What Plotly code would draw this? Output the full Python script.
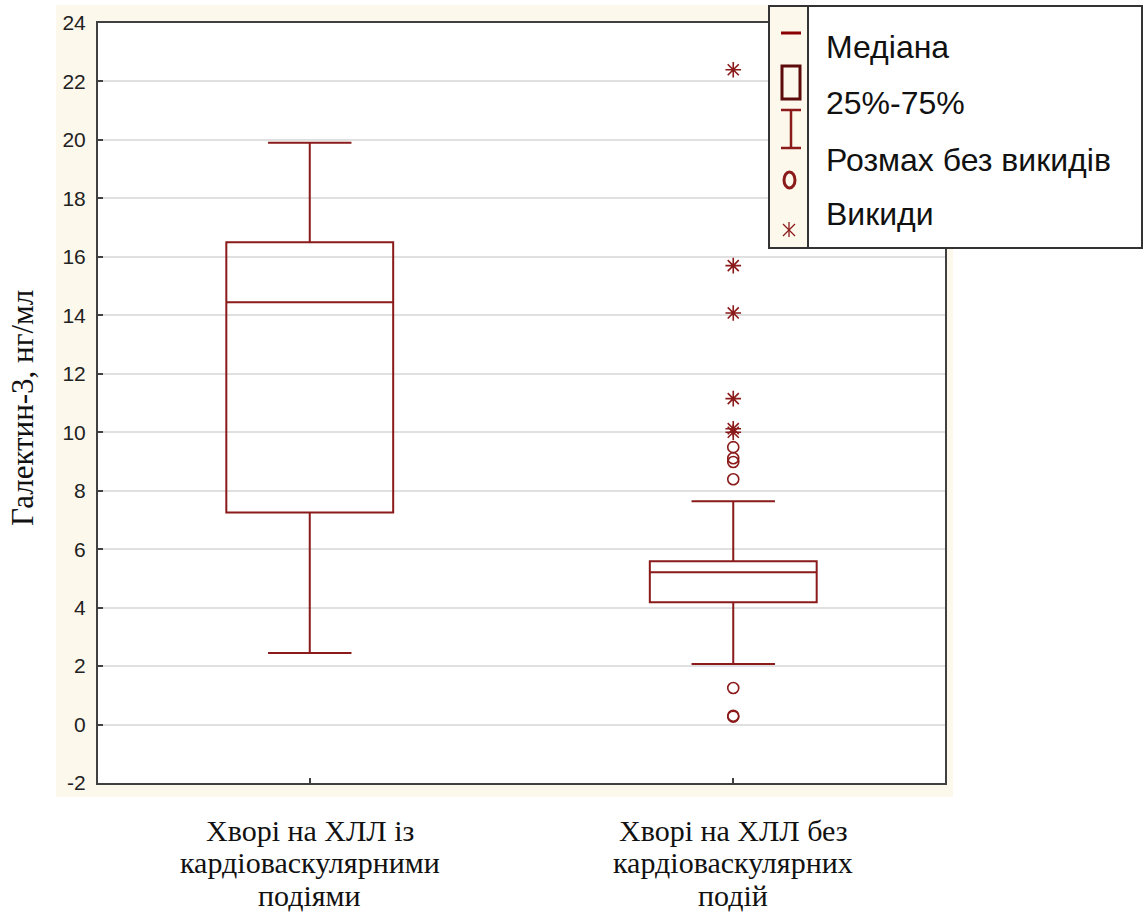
import plotly.graph_objects as go

# ---------------- data ----------------
categories = ["Хворі на ХЛЛ із<br>кардіоваскулярними<br>подіями",
              "Хворі на ХЛЛ без<br>кардіоваскулярних<br>подій"]
cat_pos = [0, 1]
q1 = [7.25, 4.18]
median = [14.45, 5.21]
q3 = [16.5, 5.59]
lower_whisker = [2.45, 2.07]
upper_whisker = [19.9, 7.64]

# outliers (group 2 only)
outlier_vals = [0.27, 0.30, 1.25, 8.39, 8.98, 9.11, 9.49]
extreme_vals = [10.0, 10.12, 11.15, 14.08, 15.7, 22.4]

y_tickvals = [-2, 0, 2, 4, 6, 8, 10, 12, 14, 16, 18, 20, 22, 24]
y_ticktext = ["-2", "0", "2", "4", "6", "8", "10", "12", "14", "16", "18", "20", "22", "24"]

y_title = "Галектин-3, нг/мл"
legend_labels = ["Медіана", "25%-75%", "Розмах без викидів", "Викиди"]

# ---------------- style ----------------
W, H = 1144, 914
L, R, T, B = 98, 199, 23, 131
RED = "#8B1A1A"
DARK = "#5C0A0A"
FRAME = "#404040"
CREAM = "#FDF8EC"

def px(xp):
    return (xp - L) / (W - L - R)

def py(yp):
    return (H - B - yp) / (H - T - B)

fig = go.Figure()
for i in range(len(cat_pos)):
    fig.add_trace(go.Box(
        x=[cat_pos[i]], q1=[q1[i]], median=[median[i]], q3=[q3[i]],
        lowerfence=[lower_whisker[i]], upperfence=[upper_whisker[i]],
        width=0.394, whiskerwidth=0.5, boxpoints=False,
        line=dict(color=RED, width=2), fillcolor="rgba(0,0,0,0)",
        showlegend=False, hoverinfo="skip"))

fig.add_trace(go.Scatter(
    x=[cat_pos[1]] * len(outlier_vals), y=outlier_vals, mode="markers",
    marker=dict(symbol="circle-open", size=11, color=RED, line=dict(width=1.6, color=RED)),
    showlegend=False))
fig.add_trace(go.Scatter(
    x=[cat_pos[1]] * len(extreme_vals), y=extreme_vals, mode="markers",
    marker=dict(symbol="asterisk-open", size=13, color=RED, line=dict(width=1.6, color=RED)),
    showlegend=False))

shapes = [
    # cream surround
    dict(type="rect", xref="paper", yref="paper", x0=px(56), x1=px(953), y0=py(797), y1=py(5),
         fillcolor=CREAM, line=dict(width=0), layer="below"),
    # white plot area
    dict(type="rect", xref="paper", yref="paper", x0=0, x1=1, y0=0, y1=1,
         fillcolor="white", line=dict(width=0), layer="below"),
]

# custom legend
lx0, lx1, ldiv, ly0, ly1 = 769, 1142, 808, 6, 248
shapes += [
    dict(type="rect", xref="paper", yref="paper", x0=px(lx0), x1=px(ldiv), y0=py(ly1), y1=py(ly0),
         fillcolor=CREAM, line=dict(width=0), layer="above"),
    dict(type="rect", xref="paper", yref="paper", x0=px(ldiv), x1=px(lx1), y0=py(ly1), y1=py(ly0),
         fillcolor="white", line=dict(width=0), layer="above"),
    dict(type="rect", xref="paper", yref="paper", x0=px(lx0), x1=px(lx1), y0=py(ly1), y1=py(ly0),
         fillcolor="rgba(0,0,0,0)", line=dict(color="#333333", width=2), layer="above"),
    dict(type="line", xref="paper", yref="paper", x0=px(ldiv), x1=px(ldiv), y0=py(ly1), y1=py(ly0),
         line=dict(color="#333333", width=2), layer="above"),
    # median icon
    dict(type="line", xref="paper", yref="paper", x0=px(781), x1=px(801), y0=py(33), y1=py(33),
         line=dict(color="#8B0000", width=3), layer="above"),
    # box icon
    dict(type="rect", xref="paper", yref="paper", x0=px(782), x1=px(800), y0=py(99), y1=py(66),
         line=dict(color=DARK, width=3), layer="above"),
    # whisker icon
    dict(type="line", xref="paper", yref="paper", x0=px(781), x1=px(801), y0=py(110), y1=py(110),
         line=dict(color=RED, width=2.5), layer="above"),
    dict(type="line", xref="paper", yref="paper", x0=px(781), x1=px(801), y0=py(148), y1=py(148),
         line=dict(color=RED, width=2.5), layer="above"),
    dict(type="line", xref="paper", yref="paper", x0=px(791), x1=px(791), y0=py(148), y1=py(110),
         line=dict(color=RED, width=2.5), layer="above"),
    # circle icon
    dict(type="circle", xref="paper", yref="paper", x0=px(784), x1=px(795), y0=py(188), y1=py(172),
         line=dict(color=RED, width=3), layer="above"),
    # asterisk icon
    dict(type="line", xref="paper", yref="paper", x0=px(789), x1=px(789), y0=py(237), y1=py(222),
         line=dict(color=RED, width=1.3), layer="above"),
    dict(type="line", xref="paper", yref="paper", x0=px(783), x1=px(795), y0=py(236), y1=py(224),
         line=dict(color=RED, width=1.3), layer="above"),
    dict(type="line", xref="paper", yref="paper", x0=px(783), x1=px(795), y0=py(224), y1=py(236),
         line=dict(color=RED, width=1.3), layer="above"),
]

annotations = [
    dict(text=y_title, xref="paper", yref="paper", x=px(22), y=py(408), showarrow=False,
         textangle=-90, xanchor="center", yanchor="middle",
         font=dict(family="Liberation Serif", size=31, color="#111111")),
]
# category labels (multi-line, placed per line under each category)
line_y = [830, 863, 895]
for cpos, lab in zip(cat_pos, categories):
    for yy, part in zip(line_y, lab.split("<br>")):
        annotations.append(dict(text=part, xref="x", yref="paper", x=cpos, y=py(yy),
                                xanchor="center", yanchor="middle", showarrow=False,
                                font=dict(family="Liberation Serif", size=30, color="#111111")))

leg_y = [47, 103, 160, 214]
for lab, yy in zip(legend_labels, leg_y):
    annotations.append(dict(text=lab, xref="paper", yref="paper", x=px(824), y=py(yy),
                            xanchor="left", yanchor="middle", showarrow=False,
                            font=dict(family="Liberation Sans", size=32, color="#111111")))

fig.update_layout(
    width=W, height=H,
    margin=dict(l=L, r=R, t=T, b=B),
    paper_bgcolor="white", plot_bgcolor="white",
    shapes=shapes, annotations=annotations,
    xaxis=dict(range=[-0.5, 1.5], tickvals=cat_pos, showticklabels=False,
               ticks="inside", ticklen=5, tickcolor=FRAME, tickwidth=1.5,
               showgrid=False, zeroline=False, showline=True, mirror=True,
               linecolor=FRAME, linewidth=2),
    yaxis=dict(range=[-2, 24], tickvals=y_tickvals, ticktext=y_ticktext,
               ticks="inside", ticklen=5, tickcolor=FRAME, tickwidth=1.5,
               showgrid=True, gridcolor="#E0E0E0", gridwidth=2, zeroline=False,
               showline=True, mirror=True, linecolor=FRAME, linewidth=2,
               ticklabelstandoff=6,
               tickfont=dict(family="Liberation Sans", size=21, color="#222222")),
)

fig.write_html("out.html")
